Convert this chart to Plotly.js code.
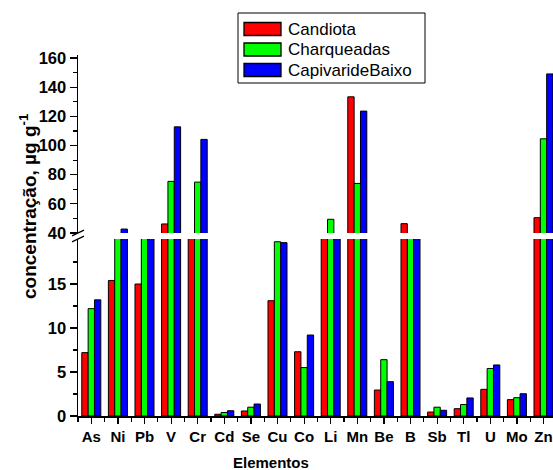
<!DOCTYPE html>
<html>
<head>
<meta charset="utf-8">
<script src="https://cdn.plot.ly/plotly-3.0.1.min.js"></script>
<style>html,body{margin:0;padding:0;background:#fff;}#chart{width:553px;height:470px;}</style>
</head>
<body>
<div id="chart"></div>
<script>
// Data (concentração, µg g-1)
const elements = ['As','Ni','Pb','V','Cr','Cd','Se','Cu','Co','Li','Mn','Be','B','Sb','Tl','U','Mo','Zn'];
const candiota    = [7.2, 15.4, 15.0, 46.2, 30, 0.2, 0.57, 13.1, 7.3, 30, 133.4, 2.95, 46.4, 0.45, 0.83, 3.03, 1.86, 50.5];
const charqueadas = [12.2, 30, 30, 75.4, 74.9, 0.4, 1.0, 19.8, 5.5, 49.4, 74.0, 6.4, 30, 1.0, 1.3, 5.4, 2.08, 104.6];
const capivari    = [13.2, 42.7, 30, 112.8, 104.2, 0.6, 1.36, 19.7, 9.2, 30, 123.6, 3.9, 30, 0.65, 2.05, 5.8, 2.53, 149.1];
const seriesNames = ['Candiota','Charqueadas','CapivarideBaixo'];
const seriesColors = ['#FF0000','#00FF00','#0000FF'];
const lowerTicks = [0,5,10,15];
const upperTicks = [40,60,80,100,120,140,160];

const W = 553, H = 470;
const mL = 78, mR = 0, mT = 55, mB = 54;
const pw = W - mL - mR, ph = H - mT - mB;
const px2x = p => (p - mL) / pw;
const px2y = p => (H - mB - p) / ph;

const FONT = 'Liberation Sans, Arial, sans-serif';
const xIdx = elements.map((_, i) => i);
const allSeries = [candiota, charqueadas, capivari];

const traces = [];
allSeries.forEach((vals, k) => {
  ['y','y2'].forEach(ax => {
    traces.push({
      type: 'bar', x: xIdx, y: vals, yaxis: ax, xaxis: 'x',
      name: seriesNames[k], showlegend: false,
      marker: {color: seriesColors[k], line: {color: '#000', width: 1}},
      hoverinfo: 'x+y+name'
    });
  });
});

const shapes = [];
const annotations = [];
// break marks on the y axis
[233, 239].forEach(yc => {
  shapes.push({type:'line', xref:'paper', yref:'paper',
    x0: px2x(72), y0: px2y(yc + 2.8), x1: px2x(84), y1: px2y(yc - 2.8),
    line:{color:'#000', width:1.3}});
});
// legend box
shapes.push({type:'rect', xref:'paper', yref:'paper',
  x0: px2x(238), x1: px2x(425), y0: px2y(13), y1: px2y(83),
  line:{color:'#000', width:1}, fillcolor:'#fff', layer:'above'});
const rowsY = [29, 49.5, 70];
seriesNames.forEach((nm, k) => {
  shapes.push({type:'rect', xref:'paper', yref:'paper',
    x0: px2x(244), x1: px2x(281), y0: px2y(rowsY[k]-6.5), y1: px2y(rowsY[k]+6.5),
    line:{color:'#000', width:1.3}, fillcolor: seriesColors[k], layer:'above'});
  annotations.push({xref:'paper', yref:'paper', x: px2x(286), y: px2y(rowsY[k]),
    xanchor:'left', yanchor:'middle', text: nm, showarrow:false,
    font:{family:FONT, size:17, color:'#000'}});
});
// axis titles
annotations.push({xref:'paper', yref:'paper', x: px2x(271), y: px2y(462),
  xanchor:'center', yanchor:'middle', text:'<b>Elementos</b>', showarrow:false,
  font:{family:FONT, size:15, color:'#000'}});
annotations.push({xref:'paper', yref:'paper', x: px2x(28), y: px2y(206),
  xanchor:'center', yanchor:'middle', textangle:-90,
  text:'<b>concentração, µg g<sup>-1</sup></b>', showarrow:false,
  font:{family:FONT, size:19, color:'#000'}});

const layout = {
  width: W, height: H,
  margin: {l: mL, r: mR, t: mT, b: mB, pad: 0},
  paper_bgcolor: '#fff', plot_bgcolor: '#fff',
  barmode: 'group', bargap: 0.285, bargroupgap: 0,
  showlegend: false,
  font: {family: FONT, color: '#000'},
  xaxis: {
    type: 'linear', range: [-0.5, (W - mL) / 26.6 - 0.5],
    tickmode: 'array', tickvals: xIdx, ticktext: elements.map(e => '<b>' + e + '</b>'),
    tickfont: {family: FONT, size: 15, color: '#000'},
    ticks: 'outside', ticklen: 6, tickwidth: 1.2, tickcolor: '#000',
    minor: {tickvals: xIdx.map(i => i - 0.5), ticks: 'outside', ticklen: 4, tickwidth: 1.2, tickcolor: '#000'},
    showline: true, linecolor: '#000', linewidth: 1.5,
    showgrid: false, zeroline: false, anchor: 'y', fixedrange: true
  },
  yaxis: {
    domain: [0, 177 / ph], range: [0, 177 / 8.8],
    tickmode: 'array', tickvals: lowerTicks, ticktext: lowerTicks.map(v => '<b>' + v + '</b>'),
    tickfont: {family: FONT, size: 16.5, color: '#000'},
    ticks: 'outside', ticklen: 7, tickwidth: 1.2, tickcolor: '#000',
    minor: {tickvals: [2.5, 7.5, 12.5, 17.5], ticks: 'outside', ticklen: 4, tickwidth: 1.2, tickcolor: '#000'},
    showline: true, linecolor: '#000', linewidth: 1.5,
    showgrid: false, zeroline: false, anchor: 'x'
  },
  yaxis2: {
    domain: [183 / ph, 1], range: [40, 40 + 178 / 1.458],
    tickmode: 'array', tickvals: upperTicks, ticktext: upperTicks.map(v => '<b>' + v + '</b>'),
    tickfont: {family: FONT, size: 16.5, color: '#000'},
    ticks: 'outside', ticklen: 7, tickwidth: 1.2, tickcolor: '#000',
    minor: {tickvals: [50, 70, 90, 110, 130, 150], ticks: 'outside', ticklen: 4, tickwidth: 1.2, tickcolor: '#000'},
    showline: true, linecolor: '#000', linewidth: 1.5,
    showgrid: false, zeroline: false, anchor: 'x'
  },
  shapes: shapes,
  annotations: annotations
};

Plotly.newPlot('chart', traces, layout, {displayModeBar: false, staticPlot: true});
</script>
</body>
</html>
